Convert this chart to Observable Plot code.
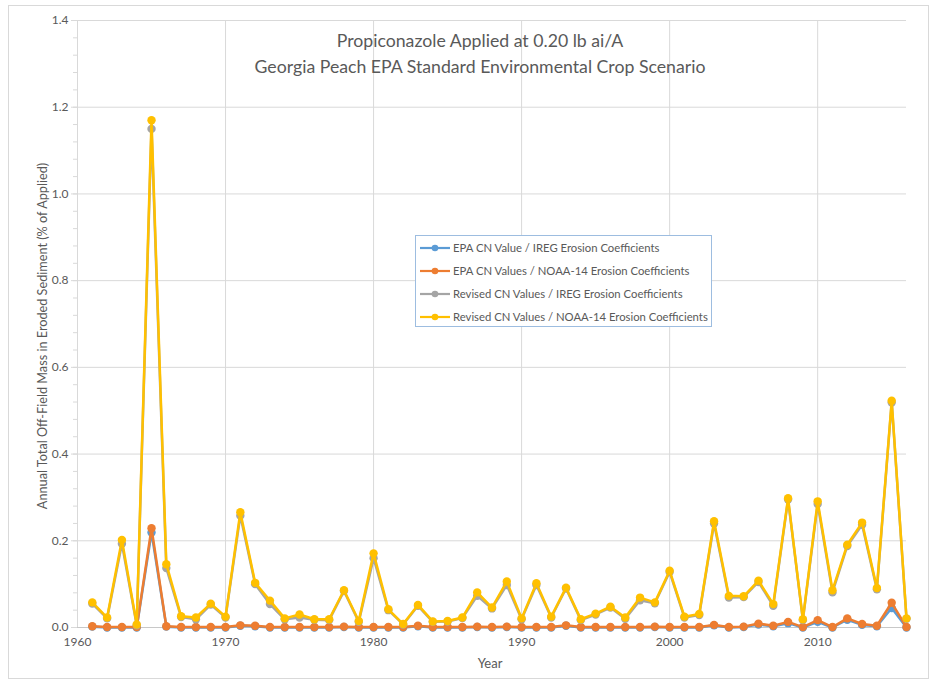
<!DOCTYPE html>
<html>
<head>
<meta charset="utf-8">
<script src="https://cdn.jsdelivr.net/npm/d3@7"></script>
<script src="https://cdn.jsdelivr.net/npm/@observablehq/plot@0.6"></script>
<style>
  html, body { margin: 0; padding: 0; background: #fff; }
  #wrap { position: relative; width: 937px; height: 687px; font-family: Lato, "Open Sans", sans-serif; }
  #frame { position: absolute; left: 8px; top: 5px; width: 921px; height: 674px; border: 1px solid #d9d9d9; box-sizing: border-box; }
  #title { position: absolute; left: 180px; width: 600px; top: 28px; text-align: center; font-size: 17.7px; line-height: 26px; color: #595959; white-space: nowrap; }
  #ylab { position: absolute; left: 42px; top: 336px; transform: translate(-50%, -50%) rotate(-90deg); white-space: nowrap; font-size: 12.7px; color: #595959; }
  #xlab { position: absolute; left: 490px; top: 663px; transform: translate(-50%, -50%); font-size: 13px; color: #595959; }
  #legend { position: absolute; left: 415px; top: 235px; width: 297px; height: 92px; border: 1px solid #9dbde0; box-sizing: border-box; background: #fff; padding-top: 0px; }
  .li { display: flex; align-items: center; height: 23px; font-size: 11.3px; color: #595959; white-space: nowrap; }
  .li svg { margin-left: 4px; margin-right: 3px; }
  svg.plot { position: absolute; left: 0; top: 0; }
</style>
</head>
<body>
<div id="wrap">
  <div id="frame"></div>
  <div id="chart"></div>
  <div id="title">Propiconazole Applied at 0.20 lb ai/A<br>Georgia Peach EPA Standard Environmental Crop Scenario</div>
  <div id="ylab">Annual Total Off-Field Mass in Eroded Sediment (% of Applied)</div>
  <div id="xlab">Year</div>
  <div id="legend"></div>
</div>
<script>
const years = d3.range(1961, 2017);

const seriesNames = [
  "EPA CN Value / IREG Erosion Coefficients",
  "EPA CN Values / NOAA-14 Erosion Coefficients",
  "Revised CN Values / IREG Erosion Coefficients",
  "Revised CN Values / NOAA-14 Erosion Coefficients"
];
const seriesColors = ["#5B9BD5", "#ED7D31", "#A5A5A5", "#FFC000"];

const epaIreg = [0.002,0.000,0.000,0.000,0.219,0.002,0.000,0.000,0.000,0.000,
  0.004,0.003,0.000,0.000,0.000,0.000,0.000,0.001,0.000,0.000,
  0.000,0.000,0.003,0.000,0.000,0.000,0.001,0.000,0.001,0.000,
  0.000,0.000,0.004,0.000,0.000,0.000,0.000,0.000,0.001,0.000,
  0.000,0.000,0.005,0.000,0.001,0.007,0.003,0.010,0.000,0.013,
  0.000,0.018,0.006,0.003,0.045,0.000];

const epaNoaa = [0.003,0.001,0.001,0.001,0.229,0.003,0.001,0.001,0.001,0.001,
  0.005,0.004,0.001,0.001,0.001,0.001,0.001,0.002,0.001,0.001,
  0.001,0.001,0.004,0.001,0.001,0.001,0.002,0.001,0.002,0.001,
  0.001,0.001,0.005,0.001,0.001,0.001,0.001,0.001,0.002,0.001,
  0.001,0.001,0.006,0.001,0.002,0.009,0.004,0.013,0.001,0.017,
  0.001,0.021,0.008,0.004,0.057,0.001];

const revIreg = [0.055,0.021,0.193,0.005,1.150,0.137,0.024,0.019,0.053,0.023,
  0.258,0.100,0.054,0.019,0.023,0.018,0.017,0.084,0.013,0.160,
  0.040,0.007,0.050,0.013,0.014,0.022,0.073,0.044,0.098,0.019,
  0.098,0.023,0.090,0.017,0.030,0.046,0.020,0.063,0.056,0.128,
  0.023,0.029,0.240,0.069,0.070,0.105,0.050,0.295,0.017,0.285,
  0.081,0.188,0.237,0.088,0.519,0.020];

const revNoaa = [0.058,0.023,0.202,0.007,1.170,0.146,0.026,0.023,0.055,0.025,
  0.266,0.103,0.062,0.021,0.030,0.019,0.019,0.086,0.015,0.171,
  0.042,0.008,0.052,0.014,0.015,0.023,0.081,0.046,0.106,0.021,
  0.102,0.025,0.092,0.019,0.032,0.048,0.023,0.069,0.058,0.131,
  0.025,0.031,0.245,0.073,0.072,0.108,0.054,0.298,0.019,0.291,
  0.086,0.191,0.242,0.091,0.523,0.021];

const yTicks = [0, 0.2, 0.4, 0.6, 0.8, 1.0, 1.2, 1.4];
const yMinorTicks = d3.range(0, 36).map(i => i * 0.04);
const xTicks = [1960, 1970, 1980, 1990, 2000, 2010];

const allValues = [epaIreg, epaNoaa, revIreg, revNoaa];
const data = [];
allValues.forEach((vals, s) => {
  vals.forEach((v, i) => data.push({year: years[i], value: v, series: seriesNames[s]}));
});

const seriesMarks = seriesNames.flatMap((name, s) => {
  const d = data.filter(r => r.series === name);
  return [
    Plot.line(d, {x: "year", y: "value", stroke: seriesColors[s], strokeWidth: 2.5}),
    Plot.dot(d, {x: "year", y: "value", fill: seriesColors[s], r: 4.2, stroke: "none"})
  ];
});

const chart = Plot.plot({
  width: 937,
  height: 687,
  marginLeft: 77,
  marginRight: 31,
  marginTop: 20,
  marginBottom: 60,
  style: {background: "transparent", fontFamily: "Lato, 'Open Sans', sans-serif", fontSize: "12px", color: "#595959"},
  x: {domain: [1960, 2016], label: null},
  y: {domain: [0, 1.4], label: null},
  marks: [
    Plot.gridY(yTicks, {stroke: "#d9d9d9", strokeOpacity: 1}),
    Plot.gridX(xTicks, {stroke: "#d9d9d9", strokeOpacity: 1}),
    Plot.ruleX([1960], {stroke: "#d9d9d9"}),
    Plot.ruleY([0], {stroke: "#c8c8c8"}),
    Plot.axisY(yMinorTicks, {text: null, tickSize: 4, stroke: "#d9d9d9", strokeOpacity: 1, label: null}),
    Plot.axisY(yTicks, {tickSize: 6, tickPadding: 3, tickFormat: d3.format(".1f"), stroke: "#d9d9d9", strokeOpacity: 1, fill: "#595959", fontSize: 12, label: null}),
    Plot.axisX(xTicks, {tickSize: 0, tickPadding: 10, tickFormat: d => String(d), fill: "#595959", fontSize: 12, label: null}),
    ...seriesMarks
  ]
});
chart.classList.add("plot");
document.getElementById("chart").appendChild(chart);

const legend = document.getElementById("legend");
seriesNames.forEach((name, s) => {
  const row = document.createElement("div");
  row.className = "li";
  row.innerHTML = `<svg width="30" height="10"><line x1="0" x2="30" y1="5" y2="5" stroke="${seriesColors[s]}" stroke-width="2.2"/><circle cx="15" cy="5" r="3.3" fill="${seriesColors[s]}"/></svg><span>${name}</span>`;
  legend.appendChild(row);
});
</script>
</body>
</html>
